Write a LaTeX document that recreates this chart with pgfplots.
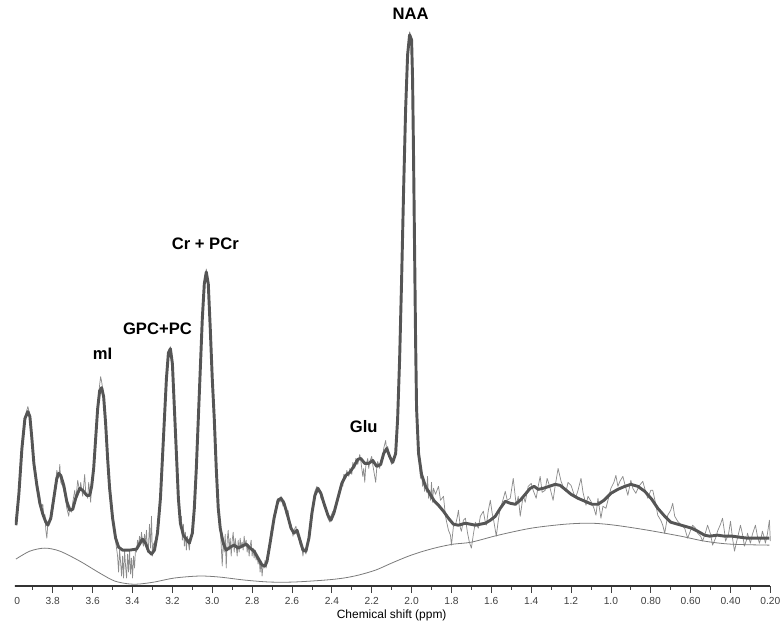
\documentclass[border=0pt]{standalone}
\usepackage{fontspec}
\setmainfont{Liberation Sans}
\usepackage{pgfplots}
\pgfplotsset{compat=1.18}
\definecolor{fitgray}{HTML}{555555}
\definecolor{rawgray}{HTML}{8C8C8C}
\definecolor{basegray}{HTML}{7A7A7A}

\begin{document}
\begin{tikzpicture}
\begin{scope}
\clip (1.5pt,-29.25pt) rectangle (578pt,441pt);
\begin{axis}[
    name=ax, at={(0,0)}, anchor=south west,
    scale only axis, width=570pt, height=441pt,
    xmin=0.2, xmax=4.0, ymin=0, ymax=588,
    x dir=reverse,
    axis x line*=bottom, axis y line=none,
    xtick={4.0,3.8,3.6,3.4,3.2,3.0,2.8,2.6,2.4,2.2,2.0,1.8,1.6,1.4,1.2,1.0,0.8,0.6,0.4,0.2},
    xticklabels={4.0,3.8,3.6,3.4,3.2,3.0,2.8,2.6,2.4,2.2,2.0,1.8,1.6,1.4,1.2,1.0,0.80,0.60,0.40,0.20},
    minor xtick={3.9,3.7,3.5,3.3,3.1,2.9,2.7,2.5,2.3,2.1,1.9,1.7,1.5,1.3,1.1,0.9,0.7,0.5,0.3},
    xtick align=outside,
    major tick length=5pt, minor tick length=3pt,
    tick style={black!75, line width=0.6pt},
    x axis line style={black!80, line width=0.9pt},
    xticklabel style={font=\fontsize{7.7}{9}\selectfont, text=black!75},
    xlabel={Chemical shift (ppm)},
    xlabel style={font=\fontsize{9}{10}\selectfont, at={(axis description cs:0.5,0)}, anchor=center, yshift=-22.5pt},
    clip=false,
]
% raw spectrum
\addplot[rawgray, line width=0.55pt, line join=round] coordinates {
(3.985,61) (3.970,95) (3.955,140) (3.940,170) (3.925,180) (3.915,172) (3.905,150) (3.895,125)
(3.885,108) (3.875,100) (3.865,90) (3.860,78) (3.850,82) (3.845,68) (3.840,72) (3.835,56)
(3.830,48) (3.825,62) (3.815,66) (3.805,80) (3.795,92) (3.785,105) (3.780,116) (3.770,108)
(3.765,122) (3.760,104) (3.750,100) (3.745,96) (3.735,86) (3.730,78) (3.720,70) (3.715,80)
(3.705,74) (3.700,84) (3.690,96) (3.685,86) (3.675,106) (3.665,94) (3.660,104) (3.650,90)
(3.640,112) (3.635,94) (3.625,88) (3.620,104) (3.610,84) (3.605,104) (3.595,120) (3.585,150)
(3.575,182) (3.565,202) (3.560,210) (3.555,205) (3.545,192) (3.535,165) (3.525,130) (3.515,100)
(3.505,75) (3.495,60) (3.485,45) (3.475,30) (3.470,14) (3.465,36) (3.460,24) (3.455,10)
(3.450,30) (3.445,8) (3.440,36) (3.435,20) (3.430,8) (3.425,32) (3.420,14) (3.415,36)
(3.410,12) (3.405,28) (3.400,8) (3.395,30) (3.390,18) (3.385,38) (3.380,34) (3.375,46)
(3.370,40) (3.365,50) (3.360,42) (3.355,54) (3.350,44) (3.345,40) (3.340,52) (3.335,42)
(3.330,56) (3.325,34) (3.320,40) (3.315,62) (3.310,38) (3.305,70) (3.300,30) (3.295,42)
(3.285,46) (3.275,55) (3.260,90) (3.250,130) (3.240,170) (3.230,210) (3.220,236) (3.210,240)
(3.200,224) (3.190,180) (3.180,135) (3.170,90) (3.165,76) (3.160,58) (3.155,70) (3.150,46)
(3.145,62) (3.140,40) (3.135,54) (3.130,36) (3.125,50) (3.120,44) (3.115,36) (3.110,48)
(3.100,55) (3.090,80) (3.080,120) (3.070,170) (3.060,220) (3.050,270) (3.040,305) (3.030,318)
(3.020,305) (3.010,260) (3.000,210) (2.990,170) (2.980,120) (2.970,80) (2.960,60) (2.955,40)
(2.950,20) (2.945,46) (2.940,34) (2.935,52) (2.930,18) (2.925,46) (2.920,56) (2.915,36)
(2.910,48) (2.905,30) (2.900,46) (2.895,54) (2.890,34) (2.885,48) (2.880,40) (2.875,30)
(2.870,46) (2.865,34) (2.860,48) (2.855,38) (2.850,44) (2.845,36) (2.840,50) (2.835,40)
(2.830,46) (2.825,34) (2.820,42) (2.815,30) (2.810,40) (2.805,46) (2.800,30) (2.795,38)
(2.790,28) (2.785,36) (2.780,26) (2.775,30) (2.770,22) (2.765,28) (2.760,14) (2.755,25)
(2.750,10) (2.745,22) (2.740,18) (2.735,26) (2.730,18) (2.725,30) (2.715,40) (2.705,55)
(2.695,62) (2.690,72) (2.680,80) (2.670,88) (2.660,84) (2.655,90) (2.645,80) (2.640,86)
(2.630,72) (2.620,76) (2.610,60) (2.605,62) (2.595,50) (2.590,56) (2.580,60) (2.575,52)
(2.565,48) (2.560,42) (2.550,38) (2.545,30) (2.540,38) (2.530,32) (2.520,45) (2.515,52)
(2.505,70) (2.500,76) (2.490,88) (2.485,95) (2.475,100) (2.470,94) (2.460,96) (2.455,88)
(2.445,85) (2.440,80) (2.430,76) (2.420,68) (2.410,64) (2.405,70) (2.395,75) (2.390,72)
(2.380,82) (2.370,90) (2.360,98) (2.350,105) (2.345,100) (2.340,112) (2.330,108) (2.325,116)
(2.315,110) (2.310,118) (2.300,112) (2.295,124) (2.285,118) (2.280,128) (2.270,122) (2.260,132)
(2.255,126) (2.250,118) (2.245,110) (2.240,118) (2.235,104) (2.230,120) (2.220,128) (2.215,118)
(2.210,125) (2.200,130) (2.195,122) (2.185,110) (2.180,104) (2.175,118) (2.170,125) (2.160,118)
(2.155,126) (2.145,130) (2.140,138) (2.130,146) (2.125,136) (2.120,140) (2.110,128) (2.100,122)
(2.095,126) (2.085,130) (2.080,136) (2.070,170) (2.060,230) (2.050,310) (2.040,400) (2.030,480)
(2.020,536) (2.010,556) (2.000,550) (1.995,510) (1.990,430) (1.985,340) (1.980,250) (1.975,180)
(1.965,135) (1.960,118) (1.955,108) (1.950,114) (1.945,100) (1.940,108) (1.935,95) (1.930,102)
(1.925,94) (1.920,110) (1.915,88) (1.910,96) (1.905,86) (1.900,104) (1.895,84) (1.890,98)
(1.880,92) (1.865,100) (1.855,86) (1.840,90) (1.830,70) (1.825,65) (1.815,56) (1.805,51)
(1.800,41) (1.790,60) (1.780,61) (1.770,70) (1.765,76) (1.755,58) (1.750,55) (1.740,66)
(1.730,68) (1.720,54) (1.710,44) (1.700,38) (1.690,52) (1.680,64) (1.665,58) (1.655,70)
(1.640,75) (1.630,64) (1.625,61) (1.615,76) (1.605,86) (1.595,72) (1.590,68) (1.575,50)
(1.565,66) (1.555,78) (1.545,84) (1.530,95) (1.520,86) (1.505,88) (1.490,108) (1.475,81)
(1.465,90) (1.455,70) (1.440,91) (1.430,84) (1.415,100) (1.400,103) (1.390,96) (1.375,88)
(1.365,100) (1.355,110) (1.345,94) (1.330,96) (1.320,108) (1.315,105) (1.305,98) (1.290,86)
(1.280,100) (1.265,118) (1.250,105) (1.240,100) (1.225,95) (1.215,104) (1.200,101) (1.185,92)
(1.175,90) (1.165,96) (1.150,108) (1.140,94) (1.125,81) (1.115,90) (1.100,85) (1.085,78)
(1.075,71) (1.065,88) (1.050,68) (1.040,80) (1.025,78) (1.010,90) (1.000,98) (0.985,104)
(0.975,111) (0.965,100) (0.955,105) (0.940,110) (0.930,102) (0.915,91) (0.900,106) (0.890,98)
(0.875,93) (0.860,100) (0.840,105) (0.825,94) (0.815,88) (0.800,96) (0.790,96) (0.775,82)
(0.765,71) (0.750,66) (0.740,61) (0.730,53) (0.715,71) (0.700,76) (0.690,83) (0.680,70)
(0.665,65) (0.650,62) (0.630,58) (0.615,48) (0.600,56) (0.590,61) (0.575,58) (0.565,53)
(0.550,50) (0.540,45) (0.525,54) (0.515,61) (0.500,52) (0.490,41) (0.475,48) (0.465,55)
(0.450,62) (0.440,68) (0.430,54) (0.425,45) (0.410,52) (0.400,65) (0.390,48) (0.380,35)
(0.370,44) (0.365,48) (0.350,61) (0.340,52) (0.330,40) (0.320,46) (0.315,53) (0.300,43)
(0.290,52) (0.275,61) (0.265,50) (0.255,43) (0.245,50) (0.240,55) (0.230,48) (0.225,43)
(0.215,52) (0.205,66) (0.200,45)
};
% baseline
\addplot[basegray, line width=0.6pt, smooth] coordinates {
(3.985,27) (3.915,35) (3.840,38) (3.765,35) (3.665,25) (3.565,13) (3.490,5) (3.415,2)
(3.365,2) (3.290,4) (3.190,8) (3.065,10) (2.965,9) (2.840,6) (2.715,4) (2.590,4)
(2.430,6) (2.340,8) (2.265,11) (2.180,16) (2.100,23) (2.015,30) (1.940,35) (1.865,39)
(1.790,42) (1.700,44) (1.565,51) (1.400,58) (1.230,62) (1.100,63) (0.980,61) (0.815,56)
(0.650,50) (0.530,45) (0.400,42) (0.205,41)
};
% fitted spectrum
\addplot[fitgray, line width=2.2pt, line join=round] coordinates {
(3.985,61) (3.970,93) (3.955,138) (3.940,168) (3.925,175) (3.915,170) (3.905,148) (3.895,123)
(3.880,101) (3.865,83) (3.850,72) (3.835,64) (3.825,61) (3.810,68) (3.795,88) (3.780,108)
(3.770,113) (3.760,111) (3.745,101) (3.730,85) (3.715,76) (3.700,77) (3.685,88) (3.665,98)
(3.650,96) (3.630,91) (3.615,91) (3.605,100) (3.595,118) (3.585,148) (3.575,178) (3.565,196)
(3.555,199) (3.545,190) (3.535,163) (3.525,128) (3.515,98) (3.500,68) (3.485,48) (3.470,39)
(3.450,36) (3.415,36) (3.380,37) (3.365,42) (3.350,47) (3.335,43) (3.320,35) (3.305,32)
(3.290,36) (3.275,53) (3.260,88) (3.250,128) (3.240,168) (3.230,208) (3.220,234) (3.210,238)
(3.200,223) (3.190,178) (3.180,133) (3.170,88) (3.160,63) (3.145,51) (3.130,47) (3.115,43)
(3.100,53) (3.090,78) (3.080,118) (3.070,168) (3.060,218) (3.050,268) (3.040,303) (3.030,315)
(3.020,303) (3.010,258) (3.000,208) (2.990,168) (2.980,118) (2.970,78) (2.960,58) (2.945,43)
(2.930,36) (2.910,39) (2.890,41) (2.870,38) (2.850,40) (2.830,42) (2.810,38) (2.790,35)
(2.770,28) (2.750,21) (2.735,20) (2.725,25) (2.710,43) (2.690,68) (2.670,86) (2.655,88)
(2.640,83) (2.625,73) (2.605,58) (2.590,53) (2.575,56) (2.560,46) (2.545,36) (2.530,35)
(2.515,48) (2.500,73) (2.485,91) (2.470,98) (2.455,93) (2.440,83) (2.420,71) (2.405,66)
(2.390,73) (2.370,88) (2.350,103) (2.330,111) (2.310,114) (2.290,120) (2.270,127) (2.255,128)
(2.235,123) (2.215,123) (2.195,126) (2.175,120) (2.155,122) (2.140,133) (2.125,138) (2.110,130)
(2.095,124) (2.080,133) (2.070,168) (2.060,228) (2.050,308) (2.040,398) (2.030,478) (2.020,533)
(2.010,553) (2.000,548) (1.995,508) (1.990,428) (1.985,338) (1.980,248) (1.975,178) (1.965,133)
(1.950,112) (1.930,100) (1.910,93) (1.885,85) (1.865,81) (1.840,75) (1.815,68) (1.790,62)
(1.765,61) (1.730,63) (1.705,62) (1.680,61) (1.655,62) (1.630,63) (1.605,66) (1.580,70)
(1.555,78) (1.530,85) (1.505,83) (1.480,82) (1.455,86) (1.430,92) (1.405,98) (1.385,100)
(1.365,97) (1.340,98) (1.310,100) (1.280,102) (1.255,101) (1.230,97) (1.200,92) (1.165,88)
(1.130,85) (1.095,82) (1.065,82) (1.035,86) (1.000,93) (0.965,97) (0.930,100) (0.900,102)
(0.865,100) (0.830,95) (0.795,87) (0.765,78) (0.730,70) (0.700,64) (0.665,62) (0.630,60)
(0.595,58) (0.565,55) (0.530,51) (0.505,50) (0.465,51) (0.430,50) (0.390,50) (0.355,49)
(0.315,48) (0.265,48) (0.205,48)
};
\node[font=\bfseries\fontsize{12.5}{14}\selectfont] at (axis cs:2.005,574) {NAA};
\node[font=\bfseries\fontsize{12.5}{14}\selectfont] at (axis cs:3.035,343) {Cr + PCr};
\node[font=\bfseries\fontsize{12.5}{14}\selectfont] at (axis cs:3.275,258) {GPC+PC};
\node[font=\bfseries\fontsize{12.5}{14}\selectfont] at (axis cs:3.550,233) {mI};
\node[font=\bfseries\fontsize{12.5}{14}\selectfont] at (axis cs:2.240,160) {Glu};
\end{axis}
\end{scope}
\pgfresetboundingbox
\path[use as bounding box] (-9.75pt,-29.25pt) rectangle (578pt,441pt);
\end{tikzpicture}
\end{document}
